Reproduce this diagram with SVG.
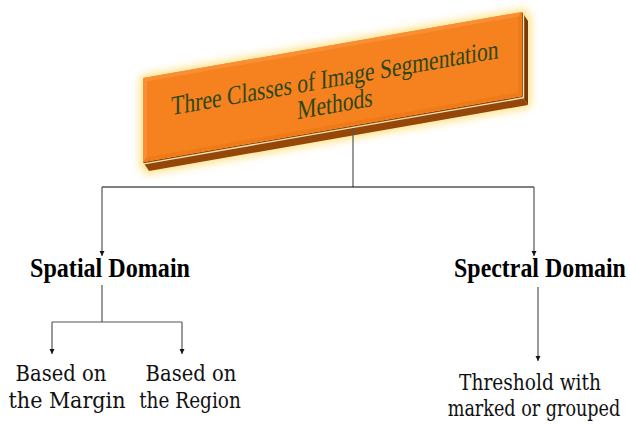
<svg xmlns="http://www.w3.org/2000/svg" width="630" height="425" viewBox="0 0 630 425">
  <style>
    .title { font-family: "Liberation Serif", "Times New Roman", serif; font-size: 27px; fill: #2C4716; text-anchor: middle; }
    .head { font-family: "Liberation Serif", "Times New Roman", serif; font-size: 27px; font-weight: bold; fill: #000; text-anchor: middle; }
    .leaf { font-family: "DejaVu Serif", serif; font-size: 22px; fill: #111; text-anchor: middle; }
    .link { fill: none; stroke: #555; stroke-width: 1.2; }
    .bar { fill: none; stroke: #000; stroke-width: 1.2; }
  </style>
  <defs>
    <marker id="arrow" viewBox="0 0 10 10" refX="10" refY="5" markerWidth="5" markerHeight="6" markerUnits="userSpaceOnUse" orient="auto">
      <path d="M0,0 L10,5 L0,10 Z" fill="#111"/>
    </marker>
    <filter id="glow" x="-20%" y="-40%" width="140%" height="180%">
      <feMorphology in="SourceAlpha" operator="dilate" radius="3" result="grown"/>
      <feGaussianBlur in="grown" stdDeviation="4" result="soft"/>
      <feFlood flood-color="#FFDF7A" flood-opacity="0.9"/>
      <feComposite in2="soft" operator="in"/>
    </filter>
  </defs>

  <rect width="630" height="425" fill="#fff"/>

  <!-- title block: extruded, slanted panel -->
  <g id="title" transform="translate(143,78) skewY(-9.88)">
    <polygon points="0,0 379,0 385,10 385,94 6,94 0,84" fill="#000" filter="url(#glow)"/>
    <polygon points="379,0 385,10 385,94 379,84" fill="#7A3A06"/>
    <polygon points="0,84 379,84 385,94 6,94" fill="#95470A"/>
    <rect x="0" y="0" width="379" height="84" fill="#F6821F"/>
    <polygon points="0,0 379,0 375,4 4,4 4,80 0,84" fill="#F98F35"/>
    <polygon points="0,84 4,80 375,80 375,4 379,0 379,84" fill="#EE7A18"/>
    <polyline points="1,86 380.5,86 380.5,1.5" fill="none" stroke="#F6E7B8" stroke-width="1.4"/>
    <g transform="translate(192,0) scale(0.8,1)">
      <text class="title" x="0" y="42">Three Classes of Image Segmentation</text>
      <text class="title" x="0" y="68">Methods</text>
    </g>
  </g>

  <!-- connectors -->
  <g id="connectors">
    <path class="link" d="M353,128 V187"/>
    <path class="bar" d="M102,187 H534"/>
    <path class="link" d="M102,187 V256" marker-end="url(#arrow)"/>
    <path class="link" d="M534,187 V256" marker-end="url(#arrow)"/>
    <path class="link" d="M102,285 V322"/>
    <path class="link" d="M52,322 H182" stroke-width="1.6"/>
    <path class="link" d="M52,322 V354" marker-end="url(#arrow)"/>
    <path class="link" d="M182,322 V354" marker-end="url(#arrow)"/>
    <path class="link" d="M538,287 V361" marker-end="url(#arrow)"/>
  </g>

  <!-- headings and leaves: horizontal squeeze via scale, positioned by centre -->
  <g id="spatial">
    <text class="head" transform="translate(110,277) scale(0.893,1)">Spatial Domain</text>
  </g>
  <g id="spectral">
    <text class="head" transform="translate(540,277) scale(0.885,1)">Spectral Domain</text>
  </g>

  <g id="margin">
    <text class="leaf" transform="translate(61,381) scale(0.89,1)">Based on</text>
    <text class="leaf" transform="translate(67,408) scale(0.94,1)">the Margin</text>
  </g>
  <g id="region">
    <text class="leaf" transform="translate(191,381) scale(0.89,1)">Based on</text>
    <text class="leaf" transform="translate(190,408) scale(0.84,1)">the Region</text>
  </g>
  <g id="threshold">
    <text class="leaf" transform="translate(530,390) scale(0.845,1)">Threshold with</text>
    <text class="leaf" transform="translate(534,416) scale(0.8,1)">marked or grouped</text>
  </g>
</svg>
